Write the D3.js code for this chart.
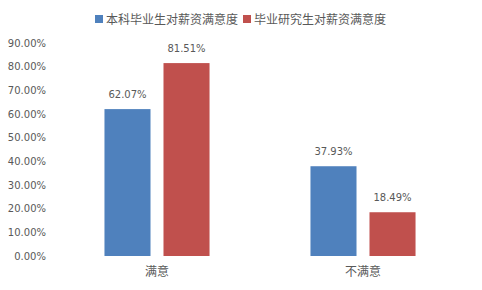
<!DOCTYPE html>
<html lang="zh">
<head>
<meta charset="UTF-8">
<title>薪资满意度</title>
<style>
    body { margin: 0; background: #fff; }
    .num { font-family: "DejaVu Sans", sans-serif; font-size: 10px; fill: #595959; }
    .cjk { font-family: "Noto Sans CJK SC", sans-serif; font-size: 12px; fill: #595959; }
</style>
</head>
<body>
<script src="https://d3js.org/d3.v7.min.js"></script>
<script>
    const categories = ["满意", "不满意"];
    const seriesNames = ["本科毕业生对薪资满意度", "毕业研究生对薪资满意度"];
    const undergrad = [62.07, 37.93];
    const graduate = [81.51, 18.49];
    const yTicks = [0, 10, 20, 30, 40, 50, 60, 70, 80, 90];
    const colors = ["#4F81BD", "#C0504D"];

    const width = 482, height = 290;
    const margin = { left: 54, right: 16, top: 43, bottom: 34 };

    const svg = d3.select("body").append("svg")
        .attr("width", width)
        .attr("height", height);

    const x = d3.scaleBand()
        .domain(categories)
        .range([margin.left, width - margin.right]);

    const xs = d3.scaleBand()
        .domain(seriesNames)
        .range([0, x.bandwidth()])
        .paddingInner(0.22)
        .paddingOuter(0.855);

    const y = d3.scaleLinear()
        .domain([0, 90])
        .range([height - margin.bottom, margin.top]);

    // y axis labels
    const yAxis = svg.append("g")
        .attr("transform", `translate(${margin.left - 8},0)`)
        .call(d3.axisLeft(y).tickValues(yTicks).tickSize(0).tickPadding(0)
            .tickFormat(d => d.toFixed(2) + "%"));
    yAxis.select(".domain").remove();
    yAxis.selectAll("text").attr("class", "num").attr("fill", null);

    const rows = categories.map((c, i) => ({ cat: c, values: [undergrad[i], graduate[i]] }));

    const group = svg.selectAll("g.cat")
        .data(rows)
        .enter().append("g")
        .attr("class", "cat")
        .attr("transform", d => `translate(${x(d.cat)},0)`);

    group.selectAll("rect")
        .data(d => d.values.map((v, j) => ({ name: seriesNames[j], v: v, j: j })))
        .enter().append("rect")
        .attr("x", d => xs(d.name))
        .attr("width", xs.bandwidth())
        .attr("y", d => y(d.v))
        .attr("height", d => y(0) - y(d.v))
        .attr("fill", d => colors[d.j]);

    group.selectAll("text.lbl")
        .data(d => d.values.map((v, j) => ({ name: seriesNames[j], v: v })))
        .enter().append("text")
        .attr("class", "num lbl")
        .attr("text-anchor", "middle")
        .attr("x", d => xs(d.name) + xs.bandwidth() / 2)
        .attr("y", d => y(d.v) - 11)
        .text(d => d.v.toFixed(2) + "%");

    // category labels
    svg.selectAll("text.catlbl")
        .data(categories)
        .enter().append("text")
        .attr("class", "cjk catlbl")
        .attr("text-anchor", "middle")
        .attr("x", d => x(d) + x.bandwidth() / 2)
        .attr("y", height - margin.bottom + 20)
        .text(d => d);

    // legend
    const legendX = [95, 243];
    const legend = svg.selectAll("g.legend")
        .data(seriesNames)
        .enter().append("g")
        .attr("class", "legend")
        .attr("transform", (d, i) => `translate(${legendX[i]},15)`);
    legend.append("rect")
        .attr("width", 8).attr("height", 8)
        .attr("fill", (d, i) => colors[i]);
    legend.append("text")
        .attr("class", "cjk")
        .attr("x", 11)
        .attr("y", 9)
        .text(d => d);
</script>
</body>
</html>
